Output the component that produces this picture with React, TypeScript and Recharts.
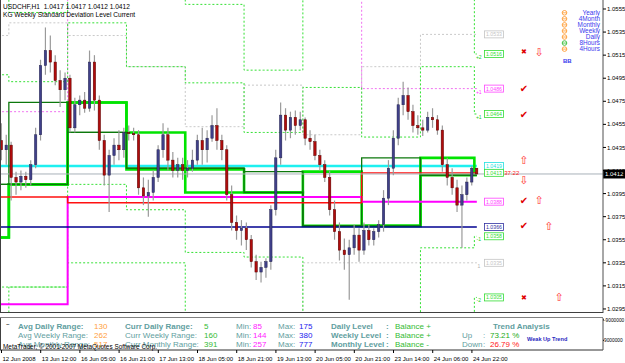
import React from 'react';
import { ComposedChart, Line, Bar, XAxis, YAxis, ReferenceLine, ReferenceDot } from 'recharts';

const FONT = '"Liberation Sans", Arial, sans-serif';
const SYM = '"DejaVu Sans", sans-serif';

// ---- candles (2-hour bars, USDCHF) ----
const opens = [
  1.0441, 1.0433, 1.0437, 1.0409, 1.0405, 1.0410, 1.0407, 1.0420, 1.0446, 1.0506,
  1.0519, 1.0509, 1.0493, 1.0485, 1.0495, 1.0452, 1.0472, 1.0476, 1.0469, 1.0509,
  1.0476, 1.0441, 1.0411, 1.0428, 1.0437, 1.0433, 1.0448, 1.0447, 1.0446, 1.0400,
  1.0393, 1.0396, 1.0409, 1.0433, 1.0446, 1.0424, 1.0415, 1.0420, 1.0415, 1.0417,
  1.0424, 1.0441, 1.0433, 1.0443, 1.0454, 1.0441, 1.0433, 1.0394, 1.0370, 1.0363,
  1.0365, 1.0355, 1.0336, 1.0327, 1.0331, 1.0336, 1.0381, 1.0426, 1.0463, 1.0450,
  1.0461, 1.0454, 1.0459, 1.0443, 1.0440, 1.0428, 1.0420, 1.0409, 1.0381, 1.0362,
  1.0346, 1.0342, 1.0348, 1.0359, 1.0346, 1.0363, 1.0355, 1.0362, 1.0368, 1.0391,
  1.0417, 1.0443, 1.0472, 1.0480, 1.0466, 1.0454, 1.0452, 1.0450, 1.0461, 1.0459,
  1.0450, 1.0420, 1.0409, 1.0400, 1.0385, 1.0394, 1.0405, 1.0417,
];
const highs = [
  1.0456, 1.0446, 1.0440, 1.0414, 1.0415, 1.0414, 1.0424, 1.0452, 1.0511, 1.0539,
  1.0532, 1.0515, 1.0502, 1.0500, 1.0498, 1.0478, 1.0480, 1.0483, 1.0519, 1.0515,
  1.0480, 1.0446, 1.0433, 1.0443, 1.0450, 1.0452, 1.0454, 1.0452, 1.0450, 1.0409,
  1.0407, 1.0415, 1.0437, 1.0456, 1.0452, 1.0431, 1.0426, 1.0426, 1.0424, 1.0433,
  1.0446, 1.0452, 1.0450, 1.0463, 1.0469, 1.0446, 1.0437, 1.0402, 1.0376, 1.0372,
  1.0370, 1.0359, 1.0342, 1.0336, 1.0339, 1.0385, 1.0433, 1.0474, 1.0469, 1.0466,
  1.0467, 1.0466, 1.0461, 1.0450, 1.0446, 1.0433, 1.0424, 1.0415, 1.0389, 1.0370,
  1.0356, 1.0355, 1.0368, 1.0365, 1.0370, 1.0368, 1.0365, 1.0372, 1.0398, 1.0424,
  1.0450, 1.0478, 1.0492, 1.0487, 1.0472, 1.0463, 1.0459, 1.0466, 1.0469, 1.0463,
  1.0454, 1.0426, 1.0417, 1.0407, 1.0402, 1.0409, 1.0419, 1.0417,
];
const lows = [
  1.0424, 1.0420, 1.0389, 1.0394, 1.0398, 1.0400, 1.0402, 1.0417, 1.0441, 1.0498,
  1.0500, 1.0489, 1.0470, 1.0476, 1.0448, 1.0448, 1.0463, 1.0465, 1.0466, 1.0467,
  1.0433, 1.0402, 1.0379, 1.0420, 1.0424, 1.0426, 1.0441, 1.0441, 1.0394, 1.0385,
  1.0375, 1.0389, 1.0405, 1.0426, 1.0415, 1.0409, 1.0409, 1.0407, 1.0409, 1.0414,
  1.0420, 1.0420, 1.0422, 1.0440, 1.0433, 1.0424, 1.0389, 1.0363, 1.0355, 1.0350,
  1.0346, 1.0331, 1.0320, 1.0318, 1.0322, 1.0329, 1.0376, 1.0420, 1.0441, 1.0443,
  1.0446, 1.0450, 1.0437, 1.0433, 1.0424, 1.0415, 1.0405, 1.0376, 1.0355, 1.0337,
  1.0329, 1.0303, 1.0342, 1.0336, 1.0342, 1.0350, 1.0350, 1.0357, 1.0362, 1.0385,
  1.0411, 1.0437, 1.0463, 1.0459, 1.0448, 1.0446, 1.0445, 1.0448, 1.0452, 1.0446,
  1.0414, 1.0402, 1.0394, 1.0379, 1.0348, 1.0389, 1.0402, 1.0412,
];
const closes = [
  1.0433, 1.0437, 1.0409, 1.0405, 1.0410, 1.0407, 1.0420, 1.0446, 1.0506, 1.0519,
  1.0509, 1.0493, 1.0485, 1.0495, 1.0452, 1.0472, 1.0476, 1.0469, 1.0509, 1.0476,
  1.0441, 1.0411, 1.0428, 1.0437, 1.0433, 1.0448, 1.0447, 1.0446, 1.0400, 1.0393,
  1.0396, 1.0409, 1.0433, 1.0446, 1.0424, 1.0415, 1.0420, 1.0415, 1.0417, 1.0424,
  1.0441, 1.0433, 1.0443, 1.0454, 1.0441, 1.0433, 1.0394, 1.0370, 1.0363, 1.0365,
  1.0355, 1.0336, 1.0327, 1.0331, 1.0336, 1.0381, 1.0426, 1.0463, 1.0450, 1.0461,
  1.0454, 1.0459, 1.0443, 1.0440, 1.0428, 1.0420, 1.0409, 1.0381, 1.0362, 1.0346,
  1.0342, 1.0348, 1.0359, 1.0346, 1.0363, 1.0355, 1.0362, 1.0368, 1.0391, 1.0417,
  1.0443, 1.0472, 1.0480, 1.0466, 1.0454, 1.0452, 1.0450, 1.0461, 1.0459, 1.0450,
  1.0420, 1.0409, 1.0400, 1.0385, 1.0394, 1.0405, 1.0417, 1.0412,
];

// ---- axis labels ----
const timeTicks = [0, 8, 16, 24, 32, 40, 48, 56, 64, 72, 80, 88, 96];
const timeLabels = [
  '12 Jun 2008', '13 Jun 12:00', '16 Jun 05:00', '16 Jun 21:00', '17 Jun 13:00', '18 Jun 05:00',
  '18 Jun 21:00', '19 Jun 13:00', '20 Jun 05:00', '20 Jun 21:00', '23 Jun 14:00', '24 Jun 06:00', '24 Jun 22:00',
];
const priceTicks = [1.0295, 1.0315, 1.0335, 1.0355, 1.0375, 1.0395, 1.0415, 1.0435, 1.0455, 1.0475, 1.0495, 1.0515, 1.0535, 1.0555];
const subTicks = [-9000000, 9000000];

// ---- daily levels (day 0 .. day 9) ----
const limeTop = [1.0357, 1.0403, 1.0474, 1.0448, 1.0416, 1.0396, 1.0414, 1.0367, 1.0426, 1.0413];
const limeBot = [1.0357, 1.0403, 1.0474, 1.0416, 1.0396, 1.0396, 1.0367, 1.0367, 1.0411, 1.0411];
const darkTop = [1.0403, 1.0474, 1.0448, 1.0417, 1.0417, 1.0414, 1.0367, 1.0426, 1.0411, 1.0411];
const darkBot = [1.0403, 1.0403, 1.0448, 1.0417, 1.0417, 1.0396, 1.0367, 1.0367, 1.0411, 1.0411];
const dotUp2 = [1.0571, 1.0552, 1.0571, 1.0571, 1.0559, 1.0502, 1.0571, 1.0571, 1.0571, 1.0516];
const dotUp1 = [1.0498, 1.0492, 1.0543, 1.0505, 1.0491, 1.0448, 1.0487, 1.0444, 1.0505, 1.0464];
const dotDn1 = [1.0314, 1.0314, 1.0403, 1.0381, 1.0344, 1.0340, 1.0277, 1.0277, 1.0348, 1.0358];
const dotDn2 = [1.0277, 1.0314, 1.0335, 1.0335, 1.0277, 1.0277, 1.0277, 1.0277, 1.0277, 1.0305];
const grayUp = [1.0532, 1.0543, 1.0532, 1.0505, 1.0453, 1.0489, 1.0446, 1.0505, 1.0533, 1.0533];
const grayDn = [1.0277, 1.0277, 1.0277, 1.0277, 1.0277, 1.0277, 1.0335, 1.0335, 1.0335, 1.0335];
// ---- weekly levels (week 0 .. week 2) ----
const pinkDot = [1.0466, 1.0571, 1.0486];
const magentaLvl = [1.0299, 1.0392, 1.0388];
const redLvl = [1.0392, 1.0387, 1.0413];
const navyLvl = 1.0366;
const cyanLvl = 1.0419;

// ---- right-side tags and signals ----
const tagPrices = [1.0533, 1.0516, 1.0486, 1.0464, 1.0419, 1.0413, 1.0388, 1.0366, 1.0358, 1.0335, 1.0305];
const tagNames = ['1.0533', '1.0516', '1.0486', '1.0464', '1.0419', '1.0413', '1.0388', '1.0366', '1.0358', '1.0335', '1.0305'];
const checkPrices = [1.0486, 1.0464, 1.0389, 1.0367];
const crossPrices = [1.0518, 1.0305];
const upArrowPrices = [1.0424, 1.0389, 1.0367, 1.0305];
const downArrowPrices = [1.0518, 1.0407];
const markPrices = [1.0516, 1.0486, 1.0464, 1.0358, 1.0335, 1.0305];
const markTexts = ['+2', '+1', '+1', '-1', '1', '-2'];

const legendNames = ['Yearly', '4Month', 'Monthly', 'Weekly', 'Daily', '8Hours', '4Hours'];

// ---- styles / layout (not data) ----
const tagColors = ['#c4c4c4', '#33dd33', '#ff44ff', '#33dd33', '#22e0e0', '#33dd33', '#ff44ff', '#3030a0', '#33dd33', '#c4c4c4', '#33dd33'];
const markColors = ['#22cc22', '#ff33ff', '#22cc22', '#22cc22', '#b0b0b0', '#22cc22'];
const upArrowSlots = [106.6, 109.7, 111.7, 113.8];
const downArrowSlots = [109.7, 106.6];
const XMIN = -0.306;
const XMAX = 122.75;
const YMIN = 1.02915;
const YMAX = 1.05628;

const dayOf = (i: number) => (i < 2 ? 0 : i >= 97 ? 9 : 1 + Math.floor((i - 2) / 12));
const weekOf = (i: number) => (i < 14 ? 0 : i < 74 ? 1 : 2);

const levelsAt = (i: number) => {
  const d = dayOf(i);
  const w = weekOf(i);
  return {
    limeTop: limeTop[d], limeBot: limeBot[d], darkTop: darkTop[d], darkBot: darkBot[d],
    dotUp2: dotUp2[d], dotUp1: dotUp1[d], dotDn1: dotDn1[d], dotDn2: dotDn2[d],
    grayUp: grayUp[d], grayDn: grayDn[d],
    pinkDot: pinkDot[w], magenta: magentaLvl[w], red: redLvl[w], navy: navyLvl, cyan: cyanLvl,
  };
};

const rows: any[] = [
  { i: -0.7, ...levelsAt(0) },
  ...opens.map((o, i) => ({
    i, o, h: highs[i], l: lows[i], c: closes[i], range: [lows[i], highs[i]], ...levelsAt(i),
  })),
];

const subRows = opens.map((_, i) => ({ i }));

const lineSpec = [
  { key: 'grayUp', color: '#c8c8c8', w: 1, dash: '2 2' },
  { key: 'grayDn', color: '#c8c8c8', w: 1, dash: '2 2' },
  { key: 'pinkDot', color: '#f070f0', w: 1, dash: '2 2' },
  { key: 'dotUp2', color: '#33e033', w: 1, dash: '2 2' },
  { key: 'dotUp1', color: '#33e033', w: 1, dash: '2 2' },
  { key: 'dotDn1', color: '#33e033', w: 1, dash: '2 2' },
  { key: 'dotDn2', color: '#33e033', w: 1, dash: '2 2' },
  { key: 'cyan', color: '#1ef0f0', w: 2.5, dash: undefined },
  { key: 'limeTop', color: '#00e400', w: 2.6, dash: undefined },
  { key: 'limeBot', color: '#00e400', w: 2.6, dash: undefined },
  { key: 'darkTop', color: '#0c780c', w: 1.3, dash: undefined },
  { key: 'darkBot', color: '#0c780c', w: 1.3, dash: undefined },
  { key: 'magenta', color: '#ff00ff', w: 2, dash: undefined },
  { key: 'red', color: '#ff1010', w: 1.4, dash: undefined },
  { key: 'navy', color: '#000090', w: 1.4, dash: undefined },
];

function Candle(props: any) {
  const { x, y, width, height, payload } = props;
  if (!payload || payload.h == null) return null;
  const top = Math.min(y, y + height);
  const h = Math.abs(height);
  const k = h / (payload.h - payload.l);
  const yo = top + (payload.h - payload.o) * k;
  const yc = top + (payload.h - payload.c) * k;
  const cx = x + width / 2;
  const bodyTop = Math.min(yo, yc);
  const bodyH = Math.max(1, Math.abs(yc - yo));
  const up = payload.c >= payload.o;
  return (
    <g>
      <line x1={cx} x2={cx} y1={top} y2={top + h} stroke="#9a9a9a" strokeWidth={1.2} />
      <rect x={cx - 1.2} y={bodyTop} width={2.4} height={bodyH}
        fill={up ? '#40408a' : '#b00c0c'} stroke={up ? '#24244e' : '#560000'} strokeWidth={0.5} />
    </g>
  );
}

function TimeTick(props: any) {
  const { x, y, payload } = props;
  const idx = timeTicks.indexOf(payload.value);
  return (
    <text x={x + 1} y={y + 6} fontSize={6} fontFamily={FONT} fill="#000" textAnchor="start">
      {timeLabels[idx]}
    </text>
  );
}

function PriceTag(props: any) {
  const vb = props.viewBox || {};
  const x = (vb.x || 0) + (vb.width || 0);
  const y = vb.y || 0;
  return (
    <g>
      <rect x={x} y={y - 4.5} width={22} height={9} fill="#000" />
      <text x={x + 2} y={y + 2.3} fontSize={6} fontFamily={FONT} fill="#fff">{closes[closes.length - 1].toFixed(4)}</text>
    </g>
  );
}

const tagShape = (label: string, color: string) => (p: any) => (
  <g>
    <rect x={p.cx - 9.5} y={p.cy - 3.5} width={19} height={7} fill="#fff" stroke={color} strokeWidth={0.8} />
    <text x={p.cx} y={p.cy + 2} fontSize={5.2} fontFamily={FONT} fill={color} textAnchor="middle">{label}</text>
  </g>
);

const glyphShape = (glyph: string, color: string, size: number) => (p: any) => (
  <text x={p.cx} y={p.cy + size * 0.36} fontSize={size} fontFamily={SYM} fill={color} textAnchor="middle">{glyph}</text>
);

const markShape = (t: string, color: string) => (p: any) => (
  <text x={p.cx} y={p.cy + 5} fontSize={5} fontFamily={FONT} fill={color} textAnchor="middle">{t}</text>
);

const last = opens.length - 1;

export default function App() {
  const teal = '#5f9ea0';
  const rowsY = [329, 338, 347];
  return (
    <div style={{ position: 'fixed', left: 0, top: 0, width: 625, height: 363, background: '#fff', overflow: 'hidden' }}>
      <div style={{ position: 'absolute', left: 0, top: 0 }}>
        <ComposedChart width={625} height={313} data={rows} margin={{ top: 0, right: 0, bottom: 0, left: 0 }}>
          <XAxis dataKey="i" type="number" domain={[XMIN, XMAX]} allowDataOverflow hide />
          <YAxis orientation="right" width={22} domain={[YMIN, YMAX]} allowDataOverflow ticks={priceTicks}
            interval={0} tickFormatter={(v: number) => v.toFixed(4)}
            tick={{ fontSize: 6, fill: '#000', fontFamily: FONT }} tickSize={3} tickMargin={1}
            axisLine={{ stroke: '#505050' }} tickLine={{ stroke: '#000' }} />
          {lineSpec.map((s) => (
            <Line key={s.key} dataKey={s.key} type="step" stroke={s.color} strokeWidth={s.w}
              strokeDasharray={s.dash} dot={false} activeDot={false} isAnimationActive={false} />
          ))}
          <ReferenceLine y={closes[last]} stroke="#a9b1b9" strokeWidth={1} label={(p: any) => <PriceTag {...p} />} />
          <Bar dataKey="range" barSize={4} shape={(p: any) => <Candle {...p} />} isAnimationActive={false} zIndex={500} />
          {tagPrices.map((v, k) => (
            <ReferenceDot key={'t' + k} x={100.5} y={v} r={0} shape={tagShape(tagNames[k], tagColors[k])} />
          ))}
          {markPrices.map((v, k) => (
            <ReferenceDot key={'m' + k} x={97.4} y={v} r={0} shape={markShape(markTexts[k], markColors[k])} />
          ))}
          {checkPrices.map((v, k) => (
            <ReferenceDot key={'c' + k} x={106.6} y={v} r={0} shape={glyphShape('\u2714', '#e00000', 10)} />
          ))}
          {crossPrices.map((v, k) => (
            <ReferenceDot key={'x' + k} x={106.6} y={v} r={0} shape={glyphShape('\u2716', '#e00000', 7)} />
          ))}
          {upArrowPrices.map((v, k) => (
            <ReferenceDot key={'u' + k} x={upArrowSlots[k]} y={v} r={0} shape={glyphShape('\u21E7', '#ff3030', 11)} />
          ))}
          {downArrowPrices.map((v, k) => (
            <ReferenceDot key={'d' + k} x={downArrowSlots[k]} y={v} r={0} shape={glyphShape('\u21E9', '#ff3030', 11)} />
          ))}
          <ReferenceDot x={102.6} y={redLvl[2]} r={0} shape={(p: any) => (
            <text x={p.cx} y={p.cy + 2} fontSize={6} fontFamily={FONT} fill="#ff2020">37:22</text>
          )} />
        </ComposedChart>
      </div>
      <div style={{ position: 'absolute', left: 0, top: 313 }}>
        <ComposedChart width={625} height={50} data={subRows} margin={{ top: 5, right: 0, bottom: 0, left: 0 }}>
          <XAxis dataKey="i" type="number" domain={[XMIN, XMAX]} allowDataOverflow ticks={timeTicks} interval={0}
            tick={(p: any) => <TimeTick {...p} />} height={13} tickSize={3}
            axisLine={{ stroke: '#303030' }} tickLine={{ stroke: '#000' }} />
          <YAxis orientation="right" width={22} domain={[-10710000, 17570000]} reversed allowDataOverflow
            ticks={subTicks} interval={0}
            tick={{ fontSize: 4.8, fill: '#000', fontFamily: FONT }} tickSize={1} tickMargin={0}
            axisLine={{ stroke: '#505050' }} tickLine={{ stroke: '#000' }} />
        </ComposedChart>
      </div>
      <svg width={625} height={363} style={{ position: 'absolute', left: 0, top: 0, pointerEvents: 'none' }}>
        <line x1={0.5} y1={0} x2={0.5} y2={313} stroke="#404040" />
        <line x1={0} y1={312.5} x2={603} y2={312.5} stroke="#404040" />
        <line x1={0} y1={317.5} x2={603} y2={317.5} stroke="#808080" />
        <line x1={0.5} y1={318} x2={0.5} y2={350} stroke="#404040" />
        <text x={3} y={8.5} fontSize={6.6} fontFamily={FONT} fill="#000" xmlSpace="preserve">
          {`USDCHF,H1  ${opens[last].toFixed(4)} ${highs[last].toFixed(4)} ${lows[last].toFixed(4)} ${closes[last].toFixed(4)}`}
        </text>
        <text x={3} y={16.5} fontSize={6.6} fontFamily={FONT} fill="#000">KG Weekly Standard Deviation Level Current</text>
        {legendNames.map((n, k) => (
          <g key={n}>
            <text x={600} y={15 + k * 6.05} fontSize={6.4} fontFamily={FONT} fill="#3a3aee" textAnchor="end">{n}</text>
            <circle cx={564.5} cy={12.8 + k * 6.05} r={2.3} fill="none" stroke={k === 5 ? '#33bb33' : '#ff9a30'} strokeWidth={0.9} />
            <line x1={562.2} x2={566.8} y1={12.8 + k * 6.05} y2={12.8 + k * 6.05} stroke={k === 5 ? '#33bb33' : '#ff9a30'} strokeWidth={0.8} />
          </g>
        ))}
        <text x={563} y={63} fontSize={6} fontWeight="bold" fontFamily={FONT} fill="#3a3aee">BB</text>

        <text x={6} y={326} fontSize={6} fontFamily={FONT} fill="#000">~</text>
        <text x={18} y={rowsY[0]} fontSize={8} fontWeight="bold" fontFamily={FONT} fill={teal}>Avg Daily Range:</text>
        <text x={18} y={rowsY[1]} fontSize={8} fontFamily={FONT} fill={teal}>Avg Weekly Range:</text>
        <text x={18} y={rowsY[2]} fontSize={8} fontFamily={FONT} fill={teal}>Avg Monthly Range:</text>
        <text x={94} y={rowsY[0]} fontSize={8} fontFamily={FONT} fill="#ffa040">130</text>
        <text x={94} y={rowsY[1]} fontSize={8} fontFamily={FONT} fill="#ffa040">262</text>
        <text x={94} y={rowsY[2]} fontSize={8} fontFamily={FONT} fill="#ffa040">517</text>
        <text x={125} y={rowsY[0]} fontSize={8} fontWeight="bold" fontFamily={FONT} fill={teal}>Curr Daily Range:</text>
        <text x={125} y={rowsY[1]} fontSize={8} fontFamily={FONT} fill={teal}>Curr Weekly Range:</text>
        <text x={125} y={rowsY[2]} fontSize={8} fontFamily={FONT} fill={teal}>Curr Monthly Range:</text>
        <text x={204} y={rowsY[0]} fontSize={8} fontFamily={FONT} fill="#33bb33">5</text>
        <text x={204} y={rowsY[1]} fontSize={8} fontFamily={FONT} fill="#33bb33">160</text>
        <text x={204} y={rowsY[2]} fontSize={8} fontFamily={FONT} fill="#33bb33">391</text>
        {['85', '144', '257'].map((v, k) => (
          <g key={'mn' + k}>
            <text x={236} y={rowsY[k]} fontSize={8} fontFamily={FONT} fill={teal}>Min:</text>
            <text x={253} y={rowsY[k]} fontSize={8} fontFamily={FONT} fill="#ff22ff">{v}</text>
          </g>
        ))}
        {['175', '380', '777'].map((v, k) => (
          <g key={'mx' + k}>
            <text x={278} y={rowsY[k]} fontSize={8} fontFamily={FONT} fill={teal}>Max:</text>
            <text x={299} y={rowsY[k]} fontSize={8} fontFamily={FONT} fill="#2222ee">{v}</text>
          </g>
        ))}
        {['Daily Level', 'Weekly Level', 'Monthly Level'].map((v, k) => (
          <g key={'lv' + k}>
            <text x={331} y={rowsY[k]} fontSize={8} fontWeight="bold" fontFamily={FONT} fill={teal}>{v}</text>
            <text x={386} y={rowsY[k]} fontSize={8} fontWeight="bold" fontFamily={FONT} fill={teal}>:</text>
            <text x={395} y={rowsY[k]} fontSize={8} fontFamily={FONT} fill="#33bb33">{k < 2 ? 'Balance +' : 'Balance -'}</text>
          </g>
        ))}
        <text x={493} y={rowsY[0]} fontSize={8} fontWeight="bold" fontFamily={FONT} fill={teal}>Trend Analysis</text>
        <text x={462} y={rowsY[1]} fontSize={8} fontFamily={FONT} fill={teal}>Up</text>
        <text x={483} y={rowsY[1]} fontSize={8} fontFamily={FONT} fill={teal}>:</text>
        <text x={490} y={rowsY[1]} fontSize={8} fontFamily={FONT} fill="#22aa22">73.21 %</text>
        <text x={462} y={rowsY[2]} fontSize={8} fontFamily={FONT} fill={teal}>Down</text>
        <text x={483} y={rowsY[2]} fontSize={8} fontFamily={FONT} fill={teal}>:</text>
        <text x={490} y={rowsY[2]} fontSize={8} fontFamily={FONT} fill="#ff2020">26.79 %</text>
        <text x={527} y={341} fontSize={5.6} fontWeight="bold" fontFamily={FONT} fill="#2828c0">Weak Up Trend</text>
        <text x={3} y={349} fontSize={6.4} fontFamily={FONT} fill="#000">MetaTrader, © 2001-2007 MetaQuotes Software Corp.</text>
      </svg>
    </div>
  );
}
